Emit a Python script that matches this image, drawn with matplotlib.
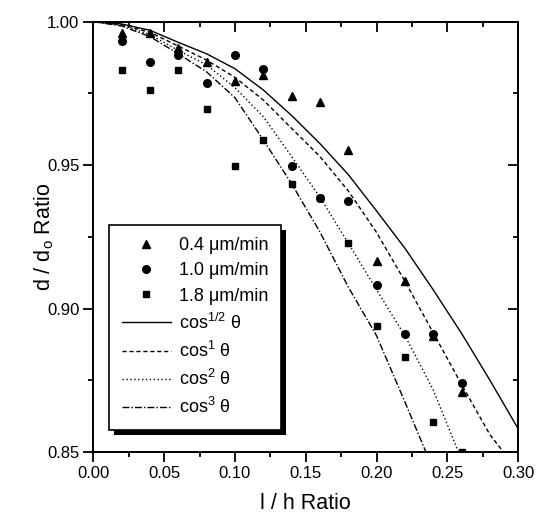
import numpy as np
import matplotlib
matplotlib.use('Agg')
import matplotlib.pyplot as plt
from matplotlib.lines import Line2D
from matplotlib.patches import Rectangle
from matplotlib.transforms import IdentityTransform
from matplotlib.ticker import MultipleLocator, FormatStrFormatter

plt.rcParams['font.family'] = ['Liberation Sans', 'DejaVu Sans']
plt.rcParams['mathtext.fontset'] = 'custom'
plt.rcParams['mathtext.rm'] = 'Liberation Sans'
plt.rcParams['mathtext.it'] = 'Liberation Sans'

# measured points (l/h ratio vs d/do ratio)
x_pts = [0.02, 0.04, 0.06, 0.08, 0.10, 0.12, 0.14, 0.16, 0.18, 0.20, 0.22, 0.24, 0.26]
rate_04 = [0.9962, 0.9960, 0.9909, 0.9861, 0.9793, 0.9814, 0.9742, 0.9721, 0.9553,
           0.9167, 0.9096, 0.8904, 0.8710]
rate_10 = [0.9933, 0.9861, 0.9884, 0.9787, 0.9884, 0.9835, 0.9497, 0.9384, 0.9375,
           0.9082, 0.8911, 0.8910, 0.8739]
rate_18 = [0.9832, 0.9762, 0.9831, 0.9696, 0.9498, 0.9588, 0.9433, 0.9387, 0.9230,
           0.8940, 0.8830, 0.8606, 0.8500]

# model curves
x_half = [0.0, 0.02, 0.04, 0.06, 0.08, 0.10, 0.12, 0.14, 0.16, 0.18, 0.20, 0.22, 0.24, 0.26, 0.28, 0.30]
y_half = [1.0, 0.9992, 0.9970, 0.9928, 0.9888, 0.9836, 0.9762, 0.9673, 0.9575, 0.9467,
          0.9340, 0.9210, 0.9065, 0.8913, 0.8750, 0.8580]
x_one = [0.0, 0.02, 0.04, 0.06, 0.08, 0.10, 0.12, 0.14, 0.16, 0.18, 0.20, 0.22, 0.24, 0.26, 0.28, 0.2895]
y_one = [1.0, 0.9990, 0.9963, 0.9915, 0.9866, 0.9806, 0.9727, 0.9628, 0.9530, 0.9410,
         0.9265, 0.9095, 0.8915, 0.8735, 0.8560, 0.8500]
x_two = [0.0, 0.02, 0.04, 0.06, 0.08, 0.10, 0.12, 0.14, 0.16, 0.18, 0.20, 0.22, 0.24, 0.2577]
y_two = [1.0, 0.9988, 0.9955, 0.9900, 0.9849, 0.9770, 0.9669, 0.9530, 0.9388, 0.9228,
         0.9065, 0.8905, 0.8716, 0.8500]
x_three = [0.0, 0.02, 0.04, 0.06, 0.08, 0.10, 0.12, 0.14, 0.16, 0.18, 0.20, 0.22, 0.2348]
y_three = [1.0, 0.9985, 0.9948, 0.9888, 0.9825, 0.9735, 0.9588, 0.9435, 0.9267, 0.9075,
           0.8905, 0.8674, 0.8500]

fig = plt.figure(figsize=(5.36, 5.16), dpi=100)
ax = fig.add_axes([0.174, 0.124, 0.793, 0.834])

ax.plot(x_half, y_half, color='black', lw=1.0, ls='-')
ax.plot(x_one, y_one, color='black', lw=1.0, ls=(0, (3, 2)))
ax.plot(x_two, y_two, color='black', lw=1.0, ls=(0, (1, 1.8)))
ax.plot(x_three, y_three, color='black', lw=1.0, ls=(0, (5, 1.5, 1, 1.5)))

ax.plot(x_pts, rate_04, ls='none', marker='^', ms=6, color='black')
ax.plot(x_pts, rate_10, ls='none', marker='o', ms=5.5, color='black')
ax.plot(x_pts, rate_18, ls='none', marker='s', ms=4.5, color='black')

ax.set_xlim(0, 0.30)
ax.set_ylim(0.85, 1.00)
ax.xaxis.set_major_locator(MultipleLocator(0.05))
ax.xaxis.set_minor_locator(MultipleLocator(0.025))
ax.yaxis.set_major_locator(MultipleLocator(0.05))
ax.yaxis.set_minor_locator(MultipleLocator(0.025))
ax.xaxis.set_major_formatter(FormatStrFormatter('%.2f'))
ax.yaxis.set_major_formatter(FormatStrFormatter('%.2f'))
ax.tick_params(which='both', direction='out', width=1.3, labelsize=12, pad=3)
ax.tick_params(which='major', length=7)
ax.tick_params(which='minor', length=3.5)
for s in ax.spines.values():
    s.set_linewidth(1.4)

# inward ticks on the top and right sides
top = ax.secondary_xaxis('top')
top.xaxis.set_major_locator(MultipleLocator(0.05))
top.xaxis.set_minor_locator(MultipleLocator(0.025))
top.tick_params(which='both', direction='in', width=1.3, labeltop=False)
top.tick_params(which='major', length=7)
top.tick_params(which='minor', length=3.5)
right = ax.secondary_yaxis('right')
right.yaxis.set_major_locator(MultipleLocator(0.05))
right.yaxis.set_minor_locator(MultipleLocator(0.025))
right.tick_params(which='both', direction='in', width=1.3, labelright=False)
right.tick_params(which='major', length=7)
right.tick_params(which='minor', length=3.5)
top.spines['top'].set_linewidth(1.4)
right.spines['right'].set_linewidth(1.4)

ax.set_xlabel('l / h Ratio', fontsize=15.5, labelpad=9)
ax.set_ylabel('d / d$_\\mathrm{o}$ Ratio', fontsize=15.5)
ax.yaxis.set_label_coords(-0.088, 0.5)

handles = [
    Line2D([], [], ls='none', marker='^', ms=6, color='black'),
    Line2D([], [], ls='none', marker='o', ms=5.5, color='black'),
    Line2D([], [], ls='none', marker='s', ms=4.5, color='black'),
    Line2D([], [], color='black', lw=1.0, ls='-'),
    Line2D([], [], color='black', lw=1.0, ls=(0, (3, 2))),
    Line2D([], [], color='black', lw=1.0, ls=(0, (1, 1.8))),
    Line2D([], [], color='black', lw=1.0, ls=(0, (5, 1.5, 1, 1.5))),
]
labels = ['0.4 μm/min', '1.0 μm/min', '1.8 μm/min',
          'cos$^{1/2}$ θ', 'cos$^{1}$ θ', 'cos$^{2}$ θ', 'cos$^{3}$ θ']
leg = ax.legend(handles, labels, loc='lower left', bbox_to_anchor=(0.0376, 0.051),
                borderaxespad=0, fontsize=13, handlelength=2.7, handletextpad=0.45,
                labelspacing=0.45, borderpad=0.7, fancybox=False, framealpha=1,
                edgecolor='black')
leg.get_frame().set_linewidth(1.2)
leg.set_zorder(6)

# solid drop shadow under the legend box
fig.canvas.draw()
bb = leg.get_frame().get_window_extent()
ax.add_patch(Rectangle((bb.x0 + 5, bb.y0 - 5), bb.width, bb.height,
                       transform=IdentityTransform(), facecolor='black',
                       edgecolor='none', clip_on=False, zorder=5.5))

fig.savefig('out.png', dpi=100)
